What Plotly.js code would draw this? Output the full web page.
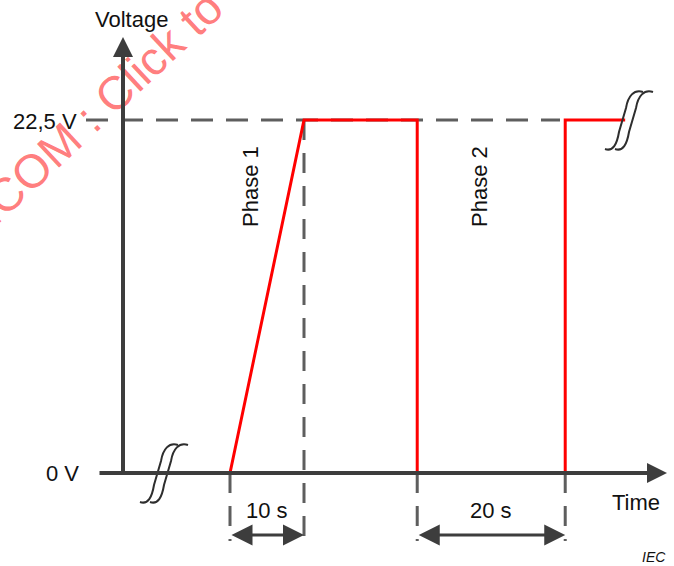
<!DOCTYPE html>
<html>
<head>
<meta charset="utf-8">
<script src="https://cdn.plot.ly/plotly-3.0.1.min.js"></script>
<style>html,body{margin:0;padding:0;background:#fff;}#chart{width:674px;height:566px;}</style>
</head>
<body>
<div id="chart"></div>
<script>
// ---- data (time in s, voltage in V) ----
const timeS    = [-7.8, 0, 10, 25.3, 25.3, 45.3, 45.3, 53.4];
const voltageV = [0,    0, 22.5, 22.5, 0,   0,    22.5, 22.5];
const levelValues = [0, 22.5];
const levelLabels = ['0 V', '22,5 V'];
const phaseLabels = ['Phase 1', 'Phase 2'];
const durationLabels = ['10 s', '20 s'];
const durationStart = [0, 25.3];
const durationEnd = [10, 45.3];
const axisTitles = ['Time', 'Voltage'];
const watermarkText = '.COM : Click to';
const sourceText = 'IEC';

// ---- scale helpers (layout only) ----
const W = 674, H = 566;
const T0PX = 230, PXS = 7.4;          // px of t=0, px per second
const V0PX = 473, PXV = 353 / 22.5;   // px of 0 V, px per volt
const t = px => (px - T0PX) / PXS;
const v = py => (V0PX - py) / PXV;

const AX = '#3d3d3d', DASH = '#5e5e5e', TXT = '#111111';
const FONT = 'Liberation Sans, Arial, sans-serif';
const FS = 22;
const dimV = v(535), dimBottom = v(541);

const traces = [];
// dashed guide lines
traces.push({x: [t(86), t(560)], y: [levelValues[1], levelValues[1]], mode: 'lines',
  line: {color: DASH, width: 3, dash: '22px,13px'}, hoverinfo: 'skip'});
[[durationStart[0], 0], [durationEnd[0], levelValues[1]], [durationStart[1], 0], [durationEnd[1], 0]].forEach(([tx, top]) => {
  traces.push({x: [tx, tx], y: [top, dimBottom], mode: 'lines',
    line: {color: DASH, width: 3, dash: '20px,13px'}, hoverinfo: 'skip'});
});
// signal
traces.push({x: timeS, y: voltageV, mode: 'lines', line: {color: '#ff0000', width: 3}, hoverinfo: 'skip'});

// squiggle break marks
function squiggle(cxpx, cypx) {
  const pts = [[-19,29],[-11,32],[-7,24],[-5,12],[2,-12],[4,-24],[10,-31],[19,-28]];
  const P = pts.map(([dx, dy]) => [t(cxpx + dx), v(cypx + dy)]);
  const s = p => p[0] + ',' + p[1];
  return 'M' + s(P[0]) + ' C' + s(P[1]) + ' ' + s(P[2]) + ' ' + s(P[3]) +
         ' L' + s(P[4]) + ' C' + s(P[5]) + ' ' + s(P[6]) + ' ' + s(P[7]);
}
const shapes = [];
[[159, 473], [169, 473], [624, 120], [634, 120]].forEach(([cx, cy]) => {
  shapes.push({type: 'path', xref: 'x', yref: 'y', path: squiggle(cx, cy),
    line: {color: '#2e2e2e', width: 2}, layer: 'above'});
});

const annotations = [];
// watermark
annotations.push({xref: 'x', yref: 'y', x: t(99), y: v(107), text: watermarkText, showarrow: false,
  textangle: -43, font: {family: FONT, size: 47, color: 'rgba(255,40,40,0.62)'}});
// axes with arrows
annotations.push({xref: 'x', yref: 'y', axref: 'x', ayref: 'y', x: t(667), y: 0, ax: t(98), ay: 0,
  text: '', showarrow: true, arrowhead: 2, arrowsize: 1, arrowwidth: 4, arrowcolor: AX, standoff: 0});
annotations.push({xref: 'x', yref: 'y', axref: 'x', ayref: 'y', x: t(123), y: v(37), ax: t(123), ay: 0,
  text: '', showarrow: true, arrowhead: 2, arrowsize: 1, arrowwidth: 4, arrowcolor: AX, standoff: 0});
// dimension arrows
for (let i = 0; i < 2; i++) {
  annotations.push({xref: 'x', yref: 'y', axref: 'x', ayref: 'y', x: durationEnd[i], y: dimV,
    ax: durationStart[i], ay: dimV, text: '', showarrow: true, arrowside: 'end+start',
    arrowhead: 2, startarrowhead: 2, arrowsize: 1.4, startarrowsize: 1.4, arrowwidth: 3, arrowcolor: AX, standoff: 0, startstandoff: 0});
  annotations.push({xref: 'x', yref: 'y', x: (durationStart[i] + durationEnd[i]) / 2, y: v(510),
    text: durationLabels[i], showarrow: false, font: {family: FONT, size: FS, color: TXT}});
}
// level labels
annotations.push({xref: 'x', yref: 'y', x: t(81), y: levelValues[0], xanchor: 'right', text: levelLabels[0],
  showarrow: false, font: {family: FONT, size: FS, color: TXT}});
annotations.push({xref: 'x', yref: 'y', x: t(79), y: v(121), xanchor: 'right', text: levelLabels[1],
  showarrow: false, font: {family: FONT, size: FS, color: TXT}});
// axis titles
annotations.push({xref: 'x', yref: 'y', x: t(636), y: v(502), text: axisTitles[0], showarrow: false,
  font: {family: FONT, size: FS, color: TXT}});
annotations.push({xref: 'x', yref: 'y', x: t(131), y: v(19), text: axisTitles[1], showarrow: false,
  font: {family: FONT, size: FS, color: TXT}});
// phase labels
annotations.push({xref: 'x', yref: 'y', x: t(250), y: v(187), text: phaseLabels[0], textangle: -90, showarrow: false,
  font: {family: FONT, size: FS, color: TXT}});
annotations.push({xref: 'x', yref: 'y', x: t(479), y: v(187), text: phaseLabels[1], textangle: -90, showarrow: false,
  font: {family: FONT, size: FS, color: TXT}});
// source
annotations.push({xref: 'x', yref: 'y', x: t(668), y: v(557), xanchor: 'right', text: '<i>' + sourceText + '</i>',
  showarrow: false, font: {family: FONT, size: 14, color: TXT}});

const layout = {
  width: W, height: H,
  margin: {l: 0, r: 0, t: 0, b: 0, pad: 0},
  paper_bgcolor: '#ffffff', plot_bgcolor: '#ffffff',
  showlegend: false,
  xaxis: {range: [t(0), t(W)], visible: false, fixedrange: true},
  yaxis: {range: [v(H), v(0)], visible: false, fixedrange: true},
  shapes: shapes, annotations: annotations
};
Plotly.newPlot('chart', traces, layout, {staticPlot: true, displayModeBar: false});
</script>
</body>
</html>
